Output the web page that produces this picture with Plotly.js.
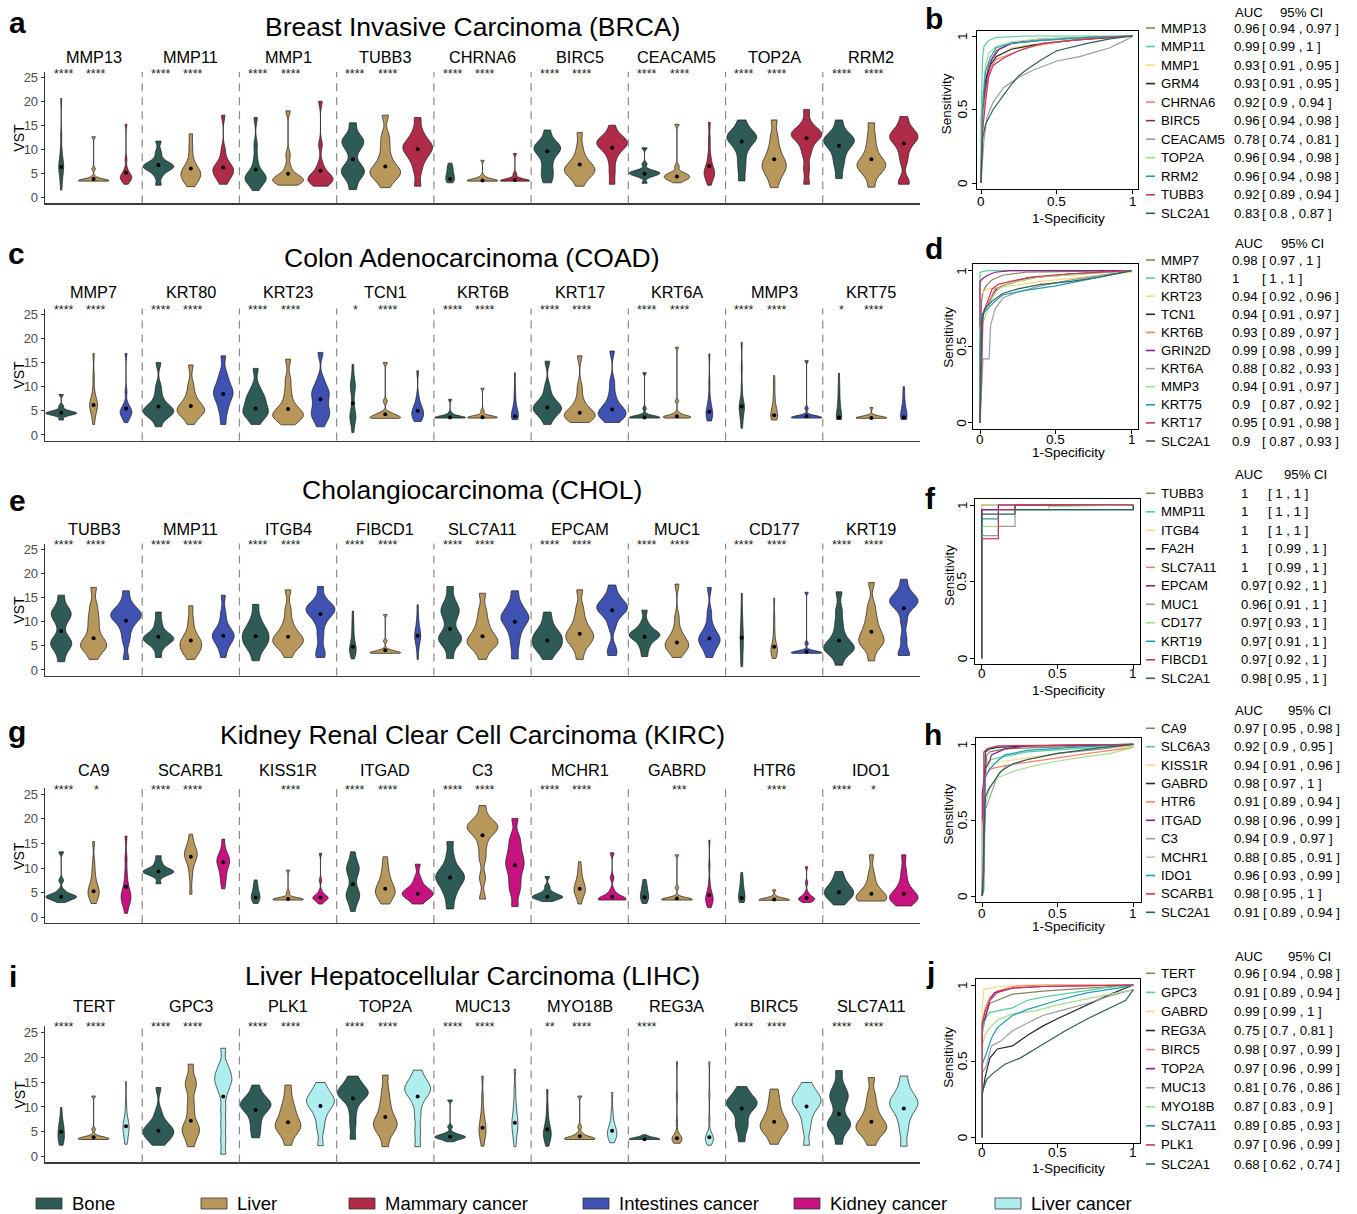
<!DOCTYPE html>
<html><head><meta charset="utf-8">
<script src="https://cdn.plot.ly/plotly-3.0.1.min.js"></script>
<style>html,body{margin:0;padding:0;background:#fff}#chart{width:1357px;height:1214px}</style>
</head><body><div id="chart"></div>
<script>
// ---------------- DATA ----------------
const groupNames = ['Bone','Liver','Mammary cancer','Intestines cancer','Kidney cancer','Liver cancer'];
const groupColors = ['#2F5B57','#B8975B','#B02B48','#3F52B2','#C7127F','#AEEEEE'];

// BRCA
const brcaTitle = 'Breast Invasive Carcinoma (BRCA)';
const brcaGenes = ['MMP13','MMP11','MMP1','TUBB3','CHRNA6','BIRC5','CEACAM5','TOP2A','RRM2'];
const brcaSigBone = ['****','****','****','****','****','****','****','****','****'];
const brcaSigLiver = ['****','****','****','****','****','****','****','****','****'];
const brcaBone = [
 [1.6,3.5,4.5,5.5,6,6.5,7,7.5,8.5,10,13,20.7],
 [2.6,4.5,5.5,6,6.3,6.5,6.6,6.8,7.2,8,9.5,11.8],
 [1.5,3,3.5,3.8,4,4.2,4.5,5,6,8,11,16.7],
 [1.7,4,5,5.5,6,7,9.5,11,11.5,12,13,15.6],
 [3.1,3.6,3.85,3.9,3.95,4.3,4.8,5.3,5.8,6.3,6.8,7.2],
 [3.1,4.5,5.5,7,8.5,9.5,10,10.3,10.6,11,12,14.1],
 [3.0,4.3,4.6,4.8,5,5.1,5.2,5.3,5.5,5.8,7,10.4],
 [3.5,6,8,10,11,12,12.3,12.7,13,13.5,14.5,16.2],
 [4,6.5,8,9.5,10.5,11.3,11.8,12,12.3,13,14,16.2]];
const brcaLiver = [
 [3.45,3.5,3.5,3.5,3.5,3.5,3.55,3.6,3.8,4.3,6,12.7],
 [2.3,3.5,3.9,4.2,4.8,5.2,5.5,5.8,6.5,8,10.5,13.3],
 [2.6,3.2,3.4,3.5,3.6,3.8,4,4.5,5,6.5,9,18.1],
 [2.1,3.8,4.5,5,5.3,5.8,6.5,7.5,9,11,13,17.2],
 [3.45,3.5,3.5,3.5,3.5,3.5,3.55,3.6,3.7,4,4.5,7.8],
 [2.4,4,4.8,5.3,5.6,5.8,6.2,6.8,7.5,8.5,10.5,13.6],
 [3.1,3.8,3.9,4,4.1,4.4,4.7,4.8,4.9,5.2,6.5,15.3],
 [2.1,4,5,5.8,6.5,7,7.5,8.5,9.5,11,13,16.2],
 [2.2,4.5,5.5,6.2,6.7,7,7.5,8.2,9.5,11,13,15.6]];
const brcaTumor = [
 [2.8,3.5,3.8,4,4.2,4.3,4.5,4.8,5.2,6,8,15.3],
 [2.8,3.8,4.5,5,5.5,5.8,6,6.3,7,8,10,17.2],
 [2.4,3.2,3.5,3.6,3.8,4,4.3,4.8,5.5,7,11,20.1],
 [2.4,5.5,7.5,8.5,9.5,10,10.5,11,11.5,12.5,14,16.7],
 [3.45,3.5,3.5,3.5,3.5,3.5,3.55,3.6,3.8,4.2,5,9.2],
 [2.8,5.5,8,9.5,10.5,11,11.3,11.5,11.8,12.3,13,15.1],
 [2.6,4,4.5,4.8,5.1,5.4,5.8,6.3,7.5,9,12,15.7],
 [2.8,6,9,10.5,12,12.8,13,13.3,13.6,14,15.5,18.4],
 [2.8,3.5,7.5,9.5,11,12,12.4,12.8,13.2,13.8,15,16.9]];
const brcaBoneDot = [6.4,6.8,5.9,8.0,3.9,9.7,5.0,11.7,10.8];
const brcaLiverDot = [3.9,6.1,5.0,6.5,3.6,6.9,4.4,8.0,8.0];
const brcaTumorDot = [5.2,6.3,5.6,10.1,3.7,10.4,6.6,12.4,11.3];

// COAD
const coadTitle = 'Colon Adenocarcinoma (COAD)';
const coadGenes = ['MMP7','KRT80','KRT23','TCN1','KRT6B','KRT17','KRT6A','MMP3','KRT75'];
const coadSigBone = ['****','****','****','*','****','****','****','****','*'];
const coadSigLiver = ['****','****','****','****','****','****','****','****','****'];
const coadBone = [
 [3.1,4,4.3,4.4,4.5,4.5,4.6,4.7,4.8,5.2,6,8.4],
 [1.7,3.8,4.3,4.6,4.8,5,5.3,5.8,6.5,8,10,15],
 [2.2,3.8,4.3,4.6,5,5.5,6.5,7.2,7.8,8.5,10,13.8],
 [0.5,2.5,3.5,3.8,4.2,5.5,7.5,9.5,10,10.5,12,14.6],
 [3.5,3.5,3.5,3.55,3.55,3.6,3.6,3.65,3.7,3.9,4.5,7.4],
 [2.2,3.8,4.5,5,5.3,5.6,5.9,6.3,7,8,10,15.3],
 [3.5,3.5,3.55,3.55,3.6,3.6,3.65,3.7,3.8,4.2,5.5,12.9],
 [1.4,3,4,5,5.5,5.8,6,6.5,7.5,10,14,19.2],
 [3.2,3.5,3.6,3.7,4,4.5,5.5,6.5,7.5,9,10.5,12.8]];
const coadLiver = [
 [2.2,4,4.8,5.5,6,6.2,6.5,7,7.5,9,12,16.9],
 [2.2,4,4.5,4.8,5,5.3,5.8,6.3,7.2,8.5,10.5,14.5],
 [2.1,3.4,3.7,3.9,4.1,4.5,5,5.8,7,9,11.5,15.7],
 [3.45,3.5,3.5,3.5,3.55,3.6,3.8,4.2,4.4,4.6,7,15],
 [3.5,3.5,3.55,3.55,3.6,3.6,3.65,3.7,3.8,4,5,9.7],
 [2.6,3.4,3.6,3.8,4,4.3,4.6,5.2,6,7.5,10,16.4],
 [3.5,3.55,3.6,3.65,3.7,3.75,3.8,3.9,4.1,4.6,7,18.2],
 [3.1,3.5,3.7,3.9,4.1,4.4,4.8,5.5,6.5,8,10,12.3],
 [3.45,3.48,3.5,3.5,3.5,3.5,3.5,3.52,3.55,3.6,4,5.7]];
const coadTumor = [
 [2.6,3.5,4,4.3,4.6,4.8,5,5.3,5.8,6.5,9,16.9],
 [2.2,4.5,6,7,8,8.5,9,9.5,10.5,11.5,13,16.4],
 [1.7,3.5,4,4.5,5.5,6.5,7.5,8.5,9,9.8,11.5,17.1],
 [2.8,3.5,3.7,3.8,4.2,4.8,5,5.3,5.8,6.5,8,13.3],
 [3.2,3.5,3.6,3.8,4,4.2,4.6,5.2,6,7.5,9.5,12.9],
 [2.6,3.5,3.9,4.2,4.5,4.8,5.2,5.8,6.8,8.5,11,17.4],
 [2.9,3.5,3.8,4.1,4.4,4.8,5.2,5.8,6.5,8,11,16.8],
 [3.5,3.5,3.55,3.55,3.6,3.6,3.65,3.7,3.8,4.1,5.5,15.4],
 [3.2,3.5,3.6,3.7,3.9,4.2,4.6,5.2,6,7,8.5,10]];
const coadBoneDot = [4.6,5.9,5.5,6.6,3.6,5.7,3.6,5.9,3.6];
const coadLiverDot = [6.2,6.0,5.4,4.3,3.7,4.6,3.9,4.1,3.5];
const coadTumorDot = [5.5,8.5,7.4,5.0,3.9,5.3,4.8,3.9,3.7];

// CHOL
const cholTitle = 'Cholangiocarcinoma (CHOL)';
const cholGenes = ['TUBB3','MMP11','ITGB4','FIBCD1','SLC7A11','EPCAM','MUC1','CD177','KRT19'];
const cholSigBone = ['****','****','****','****','****','****','****','****','****'];
const cholSigLiver = ['****','****','****','****','****','****','****','****','****'];
const cholBone = [
 [1.7,4,5,5.5,6,7,9.5,11,11.5,12,13,15.5],
 [2.6,4.5,5.5,6,6.3,6.5,6.7,7,7.5,8.5,10,12],
 [1.9,4,5,5.5,6.2,6.8,7.3,8,8.5,9.5,11,13.6],
 [2.3,3.5,3.8,4,4.2,4.5,5,5.8,7,8.5,10,12.2],
 [2.4,5,6,6.5,7,8,10,11.5,12.3,13,14.5,17.3],
 [2.2,3.8,4.5,5,5.5,6,6.8,7.2,7.6,8.5,10,12],
 [2.8,4.5,5.5,6.5,6.9,7.1,7.3,7.5,7.9,8.6,9.8,12.4],
 [0.7,2,3.5,4.5,5.5,6.5,7.3,8.3,9.5,11,13,15.9],
 [1,3.3,3.9,4.3,4.6,5,5.6,6.5,8,10,12.5,16.2]];
const cholLiver = [
 [2.2,4,4.6,5,5.4,6,7,8.5,10,11.5,13.5,17.1],
 [2.2,3.6,4,4.4,5,5.5,6,6.4,7,8.5,10.5,13.3],
 [2.6,4.5,5.2,5.6,6,6.4,6.9,7.5,8.5,10,12.5,16.6],
 [3.45,3.5,3.5,3.5,3.5,3.55,3.6,3.7,3.9,4.3,6,11.5],
 [2.2,4.3,5,5.5,5.9,6.3,7,7.8,9,10.5,12.5,15.9],
 [2.2,4.5,5.5,6.2,6.8,7.2,7.7,8.5,9.5,11,13,16.6],
 [2.6,3.8,4.4,4.8,5.1,5.4,5.8,6.4,7.2,8.5,11,17.8],
 [2.4,3.3,3.6,3.8,4,4.3,4.7,5.3,6.5,8.5,11,14.9],
 [1.9,4.5,5.3,5.8,6.3,7,7.8,8.7,10,11.5,13.5,18.1]];
const cholTumor = [
 [2.2,6,8,9.5,10.5,11,11.3,11.6,12,12.8,14,16.4],
 [2.6,4.5,5.5,6.2,6.8,7.1,7.4,7.8,8.5,10,12,15.5],
 [2.6,4,7,9.5,11,11.8,12.2,12.6,13,13.5,14.5,17.3],
 [2.2,4.5,5.5,6.3,6.8,7.1,7.4,7.8,8.5,9.5,11,13.5],
 [2.3,5,7,8.5,9.5,10.3,10.8,11.2,11.8,12.8,14,16.4],
 [3,4.5,9,11,12,12.5,12.8,13.2,13.7,14.5,15.5,17.6],
 [2.6,4,5,5.6,6,6.4,6.8,7.3,8,9.5,12,17.1],
 [3.45,3.5,3.5,3.5,3.5,3.55,3.6,3.65,3.75,4,5.5,16.1],
 [3,3.5,6.5,10,12.5,13.5,14,14.3,14.7,15.3,16.5,18.8]];
const cholBoneDot = [8.1,6.9,7.0,4.8,8.5,6.1,6.9,6.7,6.1];
const cholLiverDot = [6.6,6.1,6.9,4.1,7.0,7.5,5.7,4.8,7.9];
const cholTumorDot = [10.2,7.1,11.6,7.1,10.0,12.4,6.5,3.8,12.8];

// KIRC
const kircTitle = 'Kidney Renal Clear Cell Carcinoma (KIRC)';
const kircGenes = ['CA9','SCARB1','KISS1R','ITGAD','C3','MCHR1','GABRD','HTR6','IDO1'];
const kircSigBone = ['****','****','','****','****','****','','','****'];
const kircSigLiver = ['*','****','****','****','****','****','***','****','*'];
const kircBone = [
 [3.0,3.6,3.9,4,4.1,4.2,4.3,4.5,4.8,5.5,7.5,13.3],
 [6.8,8.3,8.8,9,9.2,9.3,9.4,9.6,9.9,10.5,11.3,12.5],
 [2.8,3.5,3.8,3.9,4,4.2,4.6,5.1,5.6,6.2,6.9,7.6],
 [1.2,3.2,4,4.5,5,6,8,9.3,9.8,10.3,11.3,13.3],
 [1.7,4,5.5,6.5,7.3,7.9,8.3,8.8,9.5,10.5,12.5,15.4],
 [3.2,3.7,3.9,4,4.1,4.2,4.3,4.5,4.8,5.3,6.3,8.3],
 [2.8,3.5,3.8,3.95,4.1,4.4,4.8,5.3,5.8,6.4,7,7.7],
 [3,3.6,3.8,3.9,4,4.3,4.8,5.5,6.2,7,8,9.1],
 [2.5,3.5,4,4.4,4.8,5.1,5.4,5.8,6.3,7,8,9.3]];
const kircLiver = [
 [2.8,3.8,4.3,4.8,5.1,5.4,5.8,6.5,7.5,9,11,15.4],
 [4.7,8,10,11.3,12,12.5,12.8,13.1,13.5,14.2,15.2,16.9],
 [3.5,3.5,3.55,3.55,3.6,3.6,3.65,3.7,3.8,4,5,9.6],
 [2.7,3.8,4.4,4.8,5.2,5.6,6.1,6.8,7.6,8.8,10.3,12.3],
 [3.7,8,12,14.5,16.5,17.5,18,18.3,18.7,19.2,20.2,22.7],
 [2.7,4.2,4.8,5.2,5.5,5.8,6.1,6.6,7.3,8.3,9.5,11.3],
 [3.5,3.5,3.55,3.55,3.6,3.6,3.65,3.7,3.85,4.2,6,12.7],
 [3.45,3.48,3.5,3.5,3.5,3.5,3.5,3.55,3.6,3.7,4.2,5.6],
 [3.3,3.5,3.6,3.7,3.9,4.2,4.6,5.2,6,7.2,9,12.7]];
const kircTumor = [
 [0.8,2.5,3.2,3.7,4.1,4.5,5,5.8,7,9,12,16.5],
 [5.8,7.5,8.3,9.5,10.5,11,11.3,11.6,12,12.6,13.5,15.9],
 [2.7,3.4,3.6,3.8,3.9,4,4.1,4.3,4.6,5.3,7.5,13],
 [2.7,3.6,4.1,4.4,4.7,4.9,5.1,5.4,5.9,6.7,8,10.8],
 [2.2,5,6.5,8,9.5,10.5,11.3,12.3,13.5,15,16.5,20.1],
 [3.5,3.5,3.55,3.6,3.65,3.7,3.9,4.2,4.6,5.5,8,13.1],
 [2,2.8,3.2,3.5,3.7,3.9,4.2,4.6,5.3,7,10.5,15.7],
 [3,3.4,3.5,3.6,3.7,3.8,3.9,4.1,4.4,5,7,10.3],
 [2.3,3.4,3.6,3.7,3.9,4.2,4.6,5.2,6,7.5,9.5,12.7]];
const kircBoneDot = [4.2,9.3,4.0,6.7,8.1,4.2,4.1,3.9,5.1];
const kircLiverDot = [5.3,12.3,3.7,5.8,16.7,5.8,3.8,3.6,4.8];
const kircTumorDot = [6.2,11.2,4.0,4.8,10.6,4.2,4.5,3.9,4.8];

// LIHC
const lihcTitle = 'Liver Hepatocellular Carcinoma (LIHC)';
const lihcGenes = ['TERT','GPC3','PLK1','TOP2A','MUC13','MYO18B','REG3A','BIRC5','SLC7A11'];
const lihcSigBone = ['****','****','****','****','****','**','****','****','****'];
const lihcSigLiver = ['****','****','****','****','****','****','','****','****'];
const lihcBone = [
 [2.3,3.2,3.5,3.7,4,4.6,5.4,5.8,6.1,6.7,8,9.9],
 [2.3,3.3,3.8,4.3,4.8,5.1,5.4,5.8,6.4,7.2,9,13.9],
 [3.8,5.5,7,8.5,9.5,10,10.3,10.6,11,11.6,12.5,14.4],
 [3.5,6.5,9,11,12,12.4,12.7,13,13.4,14,15,16.2],
 [3,3.5,3.7,3.8,3.9,4,4.1,4.2,4.4,4.8,6,11.4],
 [2.1,3.2,3.8,4.2,4.5,4.8,5.2,5.8,6.6,7.8,10,13.5],
 [3.45,3.48,3.5,3.5,3.5,3.5,3.5,3.5,3.52,3.55,3.7,4.4],
 [3,5.5,6.5,8,9.5,10.2,10.5,10.8,11.2,11.8,12.7,14.1],
 [2.5,5,6,6.5,7,8,10,11.5,12.2,13,14.5,17.3]];
const lihcLiver = [
 [3.45,3.5,3.5,3.5,3.55,3.6,3.65,3.75,3.9,4.2,5.5,12.2],
 [2,3.8,4.8,5.4,6,7,9,11,13.5,14.7,15.7,18.6],
 [2.3,4.3,5.2,5.8,6.2,6.7,7.3,8.3,9.3,10.3,12,14.4],
 [2,4.3,5.3,6,6.5,7,7.7,8.7,10,11.5,13.5,16.4],
 [2.1,3.5,4.2,4.8,5.3,5.8,6.3,7,8,9.5,12,16.2],
 [3.45,3.5,3.5,3.5,3.55,3.6,3.7,3.9,4.2,4.7,6,12.2],
 [2.7,3.3,3.45,3.5,3.55,3.6,3.7,3.9,4.5,7,12,19.1],
 [2.5,4.3,5.2,5.7,6.1,6.6,7.2,8,9,10.3,11.8,13.6],
 [2.3,4.2,5,5.5,5.9,6.4,7,7.8,9,10.5,12.5,15.9]];
const lihcTumor = [
 [2.5,3.5,4.3,5,5.5,5.9,6.2,6.6,7.2,8.2,10.5,15.1],
 [0.5,3.5,6.5,9.5,12.5,14,15,15.6,16.3,17.3,18.5,21.8],
 [2.2,5.5,7.5,9,10,10.6,11,11.4,11.9,12.6,13.5,14.9],
 [2,5,8,10.5,12,12.8,13.3,13.7,14.2,14.9,15.8,17.4],
 [2,3.8,4.8,5.6,6.3,6.9,7.5,8.3,9.5,11,13.5,17.6],
 [2.8,3.6,4,4.3,4.6,4.9,5.2,5.6,6.2,7.2,9,12.9],
 [2.3,3.3,3.45,3.5,3.6,3.7,3.8,4,4.8,7.5,12.5,19.1],
 [2.3,5.5,7.5,9,10,10.6,11.1,11.5,12,12.7,13.5,14.9],
 [2.1,5,7,8.5,9.5,10.2,10.7,11.2,11.8,12.7,14,16.2]];
const lihcBoneDot = [5.0,5.2,9.4,11.7,4.0,5.5,3.5,9.7,8.6];
const lihcLiverDot = [3.9,7.2,6.9,8.0,5.8,4.1,3.7,7.0,7.0];
const lihcTumorDot = [6.1,12.1,10.2,12.1,6.8,5.2,3.9,10.1,9.7];

// ROC curves
const rocColors = ['#8A7F60','#55CD9C','#F7D97C','#1D2B39','#F4826F','#8C1C8C','#9C9C9C','#A3DF91','#1E9BB8','#CA3A53','#2F5E5B'];

const brcaRocGenes = ['MMP13','MMP11','MMP1','GRM4','CHRNA6','BIRC5','CEACAM5','TOP2A','RRM2','TUBB3','SLC2A1'];
const brcaRocAuc = [0.96,0.99,0.93,0.93,0.92,0.96,0.78,0.96,0.96,0.92,0.83];
const brcaRocLo = [0.94,0.99,0.91,0.91,0.9,0.94,0.74,0.94,0.94,0.89,0.8];
const brcaRocHi = [0.97,1,0.95,0.95,0.94,0.98,0.81,0.98,0.98,0.94,0.87];
const brcaRocFpr = [
 [0,0.01,0.02,0.05,0.1,0.2,0.4,0.7,1],
 [0,0,0.01,0.02,0.05,0.1,0.3,1],
 [0,0.02,0.05,0.1,0.2,0.4,0.7,1],
 [0,0.01,0.03,0.06,0.1,0.2,0.35,0.6,1],
 [0,0.01,0.03,0.06,0.1,0.2,0.3,0.5,0.8,1],
 [0,0.01,0.04,0.07,0.12,0.2,0.4,1],
 [0,0.01,0.02,0.04,0.08,0.15,0.25,0.35,0.5,0.65,0.75,0.85,0.95,1],
 [0,0.01,0.03,0.05,0.1,0.2,0.4,0.7,1],
 [0,0.01,0.03,0.06,0.1,0.2,0.4,0.7,1],
 [0,0.01,0.03,0.05,0.08,0.15,0.25,0.4,0.7,1],
 [0,0.01,0.03,0.08,0.15,0.2,0.25,0.3,0.4,0.5,0.7,0.85,1]];
const brcaRocTpr = [
 [0,0.6,0.64,0.8,0.9,0.95,0.97,0.99,1],
 [0,0.4,0.85,0.93,0.97,0.99,1,1],
 [0,0.6,0.75,0.85,0.92,0.95,0.98,1],
 [0,0.5,0.7,0.8,0.86,0.91,0.94,0.97,1],
 [0,0.35,0.62,0.78,0.84,0.88,0.92,0.96,0.99,1],
 [0,0.5,0.72,0.84,0.91,0.95,0.98,1],
 [0,0.15,0.3,0.45,0.55,0.65,0.72,0.77,0.83,0.86,0.89,0.92,0.97,1],
 [0,0.6,0.8,0.88,0.93,0.96,0.98,0.99,1],
 [0,0.5,0.76,0.85,0.92,0.95,0.97,0.99,1],
 [0,0.35,0.55,0.72,0.8,0.85,0.9,0.95,0.98,1],
 [0,0.3,0.4,0.5,0.6,0.67,0.73,0.77,0.84,0.9,0.95,0.98,1]];

const coadRocGenes = ['MMP7','KRT80','KRT23','TCN1','KRT6B','GRIN2D','KRT6A','MMP3','KRT75','KRT17','SLC2A1'];
const coadRocAuc = [0.98,1,0.94,0.94,0.93,0.99,0.88,0.94,0.9,0.95,0.9];
const coadRocLo = [0.97,1,0.92,0.91,0.89,0.98,0.82,0.91,0.87,0.91,0.87];
const coadRocHi = [1,1,0.96,0.97,0.97,0.99,0.93,0.97,0.92,0.98,0.93];
const coadRocFpr = [
 [0,0.01,0.02,0.04,0.08,0.15,0.3,1],
 [0,0,0.05,1],
 [0,0,0.02,0.05,0.2,0.4,0.6,0.9,1],
 [0,0.01,0.03,0.05,0.1,0.15,0.3,0.6,1],
 [0,0.01,0.02,0.05,0.1,0.2,0.4,1],
 [0,0,0.02,0.05,0.1,0.2,1],
 [0,0.01,0.02,0.06,0.07,0.1,0.15,0.25,0.4,0.6,0.8,1],
 [0,0,0.02,0.05,0.08,0.12,0.2,0.4,0.7,1],
 [0,0,0.01,0.05,0.1,0.15,0.3,0.5,0.7,1],
 [0,0.01,0.02,0.05,0.08,0.12,0.2,0.35,0.6,1],
 [0,0.01,0.03,0.08,0.15,0.25,0.4,0.6,0.8,1]];
const coadRocTpr = [
 [0,0.8,0.86,0.9,0.94,0.97,0.99,1],
 [0,0.99,1,1],
 [0,0.83,0.86,0.88,0.9,0.93,0.95,0.98,0.99],
 [0,0.7,0.73,0.78,0.87,0.9,0.95,0.98,1],
 [0,0.28,0.7,0.78,0.88,0.92,0.96,1],
 [0,0.93,0.95,0.97,0.99,1,1],
 [0,0.18,0.42,0.42,0.64,0.75,0.82,0.86,0.9,0.94,0.97,1],
 [0,0.62,0.66,0.74,0.82,0.88,0.92,0.96,0.98,1],
 [0,0.48,0.71,0.75,0.8,0.84,0.87,0.9,0.94,1],
 [0,0.48,0.72,0.8,0.88,0.91,0.93,0.96,0.98,1],
 [0,0.65,0.75,0.8,0.85,0.88,0.91,0.93,0.96,1]];

const cholRocGenes = ['TUBB3','MMP11','ITGB4','FA2H','SLC7A11','EPCAM','MUC1','CD177','KRT19','FIBCD1','SLC2A1'];
const cholRocAuc = [1,1,1,1,1,0.97,0.96,0.97,0.97,0.97,0.98];
const cholRocLo = [1,1,1,0.99,0.99,0.92,0.91,0.93,0.91,0.92,0.95];
const cholRocHi = [1,1,1,1,1,1,1,1,1,1,1];
const cholRocFpr = [
 [0,0,1],[0,0,1],[0,0,1],
 [0,0,0.22,0.22,1],
 [0,0,0.11,0.11,1],
 [0,0,0.11,0.11,1],
 [0,0,0.11,0.11,0.22,0.22,1,1],
 [0,0,0.11,0.11,0.44,0.44,1],
 [0,0,0.11,0.11,1,1],
 [0,0,0.11,0.11,0.22,0.22,1],
 [0,0,0.22,0.22,1,1]];
const cholRocTpr = [
 [0,1,1],[0,1,1],[0,1,1],
 [0,0.97,0.97,1,1],
 [0,0.78,0.78,1,1],
 [0,0.97,0.97,1,1],
 [0,0.8,0.8,0.86,0.86,0.97,0.97,1],
 [0,0.86,0.86,0.97,0.97,0.99,1],
 [0,0.91,0.91,0.97,0.97,1],
 [0,0.78,0.78,0.97,0.97,1,1],
 [0,0.94,0.94,0.97,0.97,1]];

const kircRocGenes = ['CA9','SLC6A3','KISS1R','GABRD','HTR6','ITGAD','C3','MCHR1','IDO1','SCARB1','SLC2A1'];
const kircRocAuc = [0.97,0.92,0.94,0.98,0.91,0.98,0.94,0.88,0.96,0.98,0.91];
const kircRocLo = [0.95,0.9,0.91,0.97,0.89,0.96,0.9,0.85,0.93,0.95,0.89];
const kircRocHi = [0.98,0.95,0.96,1,0.94,0.99,0.97,0.91,0.99,1,0.94];
const kircRocFpr = [
 [0,0.01,0.03,0.05,0.15,0.4,1],
 [0,0.01,0.03,0.06,0.15,0.3,0.6,1],
 [0,0.01,0.05,0.15,0.3,0.5,0.8,1],
 [0,0.02,0.05,0.1,0.3,1],
 [0,0.01,0.02,0.06,0.15,0.3,0.5,0.7,1],
 [0,0,0.02,0.05,0.06,0.15,0.3,1],
 [0,0.02,0.05,0.1,0.15,0.3,0.5,0.8,1],
 [0,0,0.02,0.05,0.1,0.2,0.35,0.5,0.7,0.85,1],
 [0,0.01,0.02,0.05,0.1,0.15,0.3,0.6,1],
 [0,0.01,0.01,0.03,0.1,1],
 [0,0.02,0.04,0.08,0.12,0.2,0.3,0.5,0.8,1]];
const kircRocTpr = [
 [0,0.6,0.93,0.95,0.97,0.98,1],
 [0,0.8,0.88,0.9,0.92,0.95,0.97,0.99],
 [0,0.82,0.87,0.89,0.91,0.94,0.97,0.99],
 [0,0.95,0.97,0.98,0.99,1],
 [0,0.17,0.8,0.84,0.86,0.88,0.91,0.94,0.98],
 [0,0.68,0.84,0.89,0.93,0.97,0.99,1],
 [0,0.57,0.65,0.79,0.85,0.9,0.94,0.97,1],
 [0,0.45,0.6,0.72,0.78,0.82,0.86,0.89,0.92,0.94,0.98],
 [0,0.04,0.78,0.84,0.89,0.93,0.96,0.98,1],
 [0,0.17,0.95,0.97,0.99,1],
 [0,0.65,0.7,0.76,0.82,0.87,0.9,0.94,0.98,1]];

const lihcRocGenes = ['TERT','GPC3','GABRD','REG3A','BIRC5','TOP2A','MUC13','MYO18B','SLC7A11','PLK1','SLC2A1'];
const lihcRocAuc = [0.96,0.91,0.99,0.75,0.98,0.97,0.81,0.87,0.89,0.97,0.68];
const lihcRocLo = [0.94,0.89,0.99,0.7,0.97,0.96,0.76,0.83,0.85,0.96,0.62];
const lihcRocHi = [0.98,0.94,1,0.81,0.99,0.99,0.86,0.9,0.93,0.99,0.74];
const lihcRocFpr = [
 [0,0,0.02,0.05,0.1,0.2,0.4,0.7,1],
 [0,0,0.02,0.05,0.2,0.3,0.4,0.6,0.8,1],
 [0,0,0.01,0.1,0.3,1],
 [0,0,0.02,0.05,0.1,0.2,0.3,0.4,0.5,0.7,0.85,1],
 [0,0,0.02,0.05,0.1,0.2,0.4,1],
 [0,0,0.02,0.05,0.08,0.2,0.4,1],
 [0,0,0.03,0.06,0.12,0.2,0.3,0.4,0.55,0.7,0.85,1],
 [0,0,0.02,0.05,0.1,0.2,0.35,0.5,0.7,0.9,1],
 [0,0,0.03,0.06,0.1,0.2,0.3,0.5,0.7,0.9,1],
 [0,0,0.02,0.05,0.1,0.2,0.4,1],
 [0,0,0.03,0.07,0.15,0.25,0.35,0.45,0.55,0.7,0.85,0.95,1]];
const lihcRocTpr = [
 [0,0.7,0.8,0.88,0.9,0.94,0.96,0.98,1],
 [0,0.68,0.78,0.82,0.85,0.9,0.92,0.95,0.98,1],
 [0,0.85,0.97,0.99,1,1],
 [0,0.28,0.4,0.52,0.58,0.6,0.67,0.73,0.78,0.87,0.94,1],
 [0,0.76,0.85,0.92,0.96,0.99,1,1],
 [0,0.75,0.78,0.9,0.95,0.98,0.99,1],
 [0,0.42,0.48,0.6,0.63,0.7,0.75,0.8,0.84,0.88,0.93,0.97],
 [0,0.6,0.68,0.72,0.77,0.81,0.83,0.87,0.91,0.95,0.97],
 [0,0.48,0.56,0.65,0.72,0.8,0.84,0.9,0.95,0.98,1],
 [0,0.75,0.83,0.9,0.95,0.98,0.99,1],
 [0,0.3,0.38,0.42,0.48,0.52,0.58,0.64,0.7,0.78,0.85,0.9,0.97]];

const rocTickVals = [0, 0.5, 1];
const rocTickText = ['0', '0.5', '1'];
const vstTickVals = [0, 5, 10, 15, 20, 25];

// ---------------- ASSEMBLY ----------------
const W = 1357, H = 1214;
const FONT = 'Liberation Sans, Arial, Helvetica, sans-serif';
const px = v => v / W;
const py = v => 1 - v / H;

const rows = [
 {title:brcaTitle, genes:brcaGenes, cancer:2, s:[brcaBone,brcaLiver,brcaTumor], d:[brcaBoneDot,brcaLiverDot,brcaTumorDot], sig:[brcaSigBone,brcaSigLiver]},
 {title:coadTitle, genes:coadGenes, cancer:3, s:[coadBone,coadLiver,coadTumor], d:[coadBoneDot,coadLiverDot,coadTumorDot], sig:[coadSigBone,coadSigLiver]},
 {title:cholTitle, genes:cholGenes, cancer:3, s:[cholBone,cholLiver,cholTumor], d:[cholBoneDot,cholLiverDot,cholTumorDot], sig:[cholSigBone,cholSigLiver]},
 {title:kircTitle, genes:kircGenes, cancer:4, s:[kircBone,kircLiver,kircTumor], d:[kircBoneDot,kircLiverDot,kircTumorDot], sig:[kircSigBone,kircSigLiver]},
 {title:lihcTitle, genes:lihcGenes, cancer:5, s:[lihcBone,lihcLiver,lihcTumor], d:[lihcBoneDot,lihcLiverDot,lihcTumorDot], sig:[lihcSigBone,lihcSigLiver]}
];
const vGeom = [
 {y0:197.7, y25:77.7, title:27, gene:57, star:71, letter:[17,22], L:'a'},
 {y0:435, y25:314.3, title:258.3, gene:292, star:307, letter:[16,253], L:'c'},
 {y0:670, y25:549.3, title:490, gene:529, star:541.5, letter:[17,500], L:'e'},
 {y0:917.3, y25:794.3, title:735, gene:770, star:787, letter:[17,731], L:'g'},
 {y0:1156.7, y25:1032.3, title:975.7, gene:1006, star:1024, letter:[13,976], L:'i'}
];

const rocs = [
 {g:brcaRocGenes, auc:brcaRocAuc, lo:brcaRocLo, hi:brcaRocHi, fpr:brcaRocFpr, tpr:brcaRocTpr},
 {g:coadRocGenes, auc:coadRocAuc, lo:coadRocLo, hi:coadRocHi, fpr:coadRocFpr, tpr:coadRocTpr},
 {g:cholRocGenes, auc:cholRocAuc, lo:cholRocLo, hi:cholRocHi, fpr:cholRocFpr, tpr:cholRocTpr},
 {g:kircRocGenes, auc:kircRocAuc, lo:kircRocLo, hi:kircRocHi, fpr:kircRocFpr, tpr:kircRocTpr},
 {g:lihcRocGenes, auc:lihcRocAuc, lo:lihcRocLo, hi:lihcRocHi, fpr:lihcRocFpr, tpr:lihcRocTpr}
];
const rGeom = [
 {x0:981, x1:1132.7, L:977, R:1138, y1:36, y0:183, T:31, B:189, leg0:28, step:18.53, head:12, aucX:1231.7, ciX:1260, ciHead:1278, xlab:201.5, xt:218.5, yt:[946,104.2], letter:[934,19], Lt:'b'},
 {x0:980, x1:1131.7, L:973.3, R:1137.7, y1:270.7, y0:422.7, T:264.3, B:429, leg0:260, step:18.1, head:243.3, aucX:1230, ciX:1260, ciHead:1279, xlab:439.5, xt:453, yt:[948.3,337.5], letter:[934,249], Lt:'d'},
 {x0:981.7, x1:1133.3, L:975, R:1140, y1:505, y0:658.3, T:499.3, B:664, leg0:493.3, step:18.5, head:474, aucX:1239, ciX:1266, ciHead:1282, xlab:673, xt:690.5, yt:[950,575.8], letter:[930,498], Lt:'f'},
 {x0:982.3, x1:1133.3, L:976, R:1140.7, y1:744.3, y0:896, T:737.7, B:901.7, leg0:728.3, step:18.4, head:710, aucX:1231.7, ciX:1261, ciHead:1285.7, xlab:913.5, xt:926.5, yt:[948.3,814.2], letter:[933,734], Lt:'h'},
 {x0:982.3, x1:1133.3, L:976, R:1140, y1:985, y0:1137.3, T:979.3, B:1143.3, leg0:973.3, step:19.07, head:956, aucX:1231.7, ciX:1260.7, ciHead:1285.7, xlab:1152.5, xt:1168.5, yt:[948.3,1057.5], letter:[930,972], Lt:'j'}
];

function bandwidth(s){
  const a = s.slice().sort((p,q)=>p-q), n = a.length;
  const mean = a.reduce((p,q)=>p+q,0)/n;
  const sd = Math.sqrt(a.reduce((p,q)=>p+(q-mean)*(q-mean),0)/(n-1));
  const qt = p => { const h=(n-1)*p, lo=Math.floor(h); return a[lo]+(a[Math.min(lo+1,n-1)]-a[lo])*(h-lo); };
  const iqr = qt(0.75)-qt(0.25);
  const b = 1.059*Math.min(sd, iqr/1.349)*Math.pow(n,-0.2);
  return Math.min(1.2, Math.max(0.35, b));
}

const traces = [];
const annotations = [];
const shapes = [];
const layout = {width:W, height:H, margin:{l:0,r:0,t:0,b:0}, paper_bgcolor:'#ffffff', plot_bgcolor:'rgba(0,0,0,0)',
  showlegend:false, violinmode:'overlay', violingap:0.05, violingroupgap:0, annotations, shapes, font:{family:FONT}};

function ann(text, x, y, size, extra){
  return Object.assign({text, x:px(x), y:py(y), xref:'paper', yref:'paper', showarrow:false,
    xanchor:'center', yanchor:'middle', font:{family:FONT, size, color:'#000'}}, extra||{});
}

rows.forEach((row, r) => {
  const g = vGeom[r];
  const k = r + 1, sfx = k === 1 ? '' : String(k);
  const xa = 'x'+sfx, ya = 'y'+sfx;
  const sc = (g.y0 - g.y25)/25;
  const pix = v => g.y0 - v*sc;
  const yr = [-1.15, 26.2];
  layout['xaxis'+sfx] = {domain:[px(45), px(920)], range:[-0.5, 26.5], anchor:ya, showline:true, linecolor:'#3a3a3a', linewidth:1.3,
    ticks:'', showticklabels:false, showgrid:false, zeroline:false, fixedrange:true};
  layout['yaxis'+sfx] = {domain:[py(pix(yr[0])), py(pix(yr[1]))], range:yr, anchor:xa, showline:true, linecolor:'#3a3a3a', linewidth:1.3,
    ticks:'outside', ticklen:3, tickcolor:'#3a3a3a', tickvals:vstTickVals, tickfont:{family:FONT, size:13, color:'#4d4d4d'},
    showgrid:false, zeroline:false, fixedrange:true};
  const colors = [groupColors[0], groupColors[1], groupColors[row.cancer]];
  const dx = [], dy = [];
  row.genes.forEach((gene, i) => {
    for (let gi = 0; gi < 3; gi++) {
      const s = row.s[gi][i];
      traces.push({type:'violin', x0:i*3+gi, y:s, xaxis:xa, yaxis:ya, name:gene+'-'+gi,
        scalegroup:'r'+r+'g'+i, scalemode:'count', bandwidth:bandwidth(s), spanmode:'hard',
        points:false, box:{visible:false}, meanline:{visible:false},
        fillcolor:colors[gi], line:{color:'#1a1a1a', width:0.7}, opacity:1, hoverinfo:'skip'});
      dx.push(i*3+gi); dy.push(row.d[gi][i]);
    }
    annotations.push({text:gene, x:i*3+1, y:py(g.gene), xref:xa, yref:'paper', showarrow:false, xanchor:'center', yanchor:'middle',
      font:{family:FONT, size:16.3, color:'#000'}});
    for (let si = 0; si < 2; si++) {
      const t = row.sig[si][i];
      if (t) annotations.push({text:t, x:i*3+si+0.08, y:py(g.star+3), xref:xa, yref:'paper', showarrow:false, xanchor:'center', yanchor:'middle',
        font:{family:FONT, size:12.5, color:'#222'}});
    }
    if (i > 0) shapes.push({type:'line', xref:xa, yref:ya+' domain', x0:i*3-0.5, x1:i*3-0.5, y0:0, y1:1,
      line:{color:'#8a8a8a', width:1.2, dash:'8px,6px'}});
  });
  traces.push({type:'scatter', mode:'markers', x:dx, y:dy, xaxis:xa, yaxis:ya, marker:{color:'#000', size:4}, hoverinfo:'skip'});
  annotations.push(ann(row.title, 472, g.title, 26.5));
  annotations.push(ann(g.L, g.letter[0], g.letter[1], 30, {font:{family:FONT, size:30, color:'#000', weight:'bold'}}));
  annotations.push(ann('VST', 19, pix(12.5), 14, {textangle:-90, font:{family:FONT, size:14, color:'#000'}}));
});

rocs.forEach((roc, p) => {
  const g = rGeom[p];
  const k = p + 6, sfx = String(k);
  const xa = 'x'+sfx, ya = 'y'+sfx;
  const xr = [(g.L-g.x0)/(g.x1-g.x0), (g.R-g.x0)/(g.x1-g.x0)];
  const yrg = [(g.y0-g.B)/(g.y0-g.y1), (g.y0-g.T)/(g.y0-g.y1)];
  layout['xaxis'+sfx] = {domain:[px(g.L), px(g.R)], range:xr, anchor:ya, showline:true, mirror:true, linecolor:'#000', linewidth:1,
    ticks:'outside', ticklen:4, tickcolor:'#000', tickvals:rocTickVals, showticklabels:false,
    showgrid:false, zeroline:false, fixedrange:true};
  layout['yaxis'+sfx] = {domain:[py(g.B), py(g.T)], range:yrg, anchor:xa, showline:true, mirror:true, linecolor:'#000', linewidth:1,
    ticks:'outside', ticklen:4, tickcolor:'#000', tickvals:rocTickVals, showticklabels:false,
    showgrid:false, zeroline:false, fixedrange:true};
  rocTickVals.forEach((v, ti) => {
    annotations.push({text:rocTickText[ti], x:v, y:py(g.xlab), xref:xa, yref:'paper', showarrow:false, xanchor:'center', yanchor:'middle',
      font:{family:FONT, size:13.5, color:'#000'}});
    annotations.push({text:rocTickText[ti], x:px(962), y:v, xref:'paper', yref:ya, showarrow:false, xanchor:'center', yanchor:'middle',
      textangle:-90, font:{family:FONT, size:13.5, color:'#000'}});
  });
  roc.g.forEach((gene, j) => {
    traces.push({type:'scatter', mode:'lines', x:roc.fpr[j], y:roc.tpr[j], xaxis:xa, yaxis:ya, line:{color:rocColors[j], width:1.2}, hoverinfo:'skip'});
    const yy = g.leg0 + j*g.step;
    shapes.push({type:'line', xref:'paper', yref:'paper', x0:px(1146), x1:px(1155), y0:py(yy), y1:py(yy), line:{color:rocColors[j], width:1.6}});
    annotations.push(ann(gene, 1159, yy, 13.2, {xanchor:'left'}));
    annotations.push(ann(String(roc.auc[j]), g.aucX, yy, 13.2, {xanchor:'left'}));
    annotations.push(ann('[ '+roc.lo[j]+' , '+roc.hi[j]+' ]', g.ciX, yy, 13.2, {xanchor:'left'}));
  });
  annotations.push(ann('AUC', 1233, g.head, 13.2, {xanchor:'left'}));
  annotations.push(ann('95% CI', g.ciHead, g.head, 13.2, {xanchor:'left'}));
  annotations.push(ann('1-Specificity', 1068, g.xt, 13.5));
  annotations.push(ann('Sensitivity', g.yt[0], g.yt[1], 13.5, {textangle:-90}));
  annotations.push(ann(g.Lt, g.letter[0], g.letter[1], 30, {font:{family:FONT, size:30, color:'#000', weight:'bold'}}));
});

// bottom legend
const legendLeft = [36, 201, 349, 583, 794, 995];
groupNames.forEach((nm, i) => {
  const x = legendLeft[i];
  shapes.push({type:'rect', xref:'paper', yref:'paper', x0:px(x), x1:px(x+26), y0:py(1209), y1:py(1198),
    fillcolor:groupColors[i], line:{color:'#333', width:0.8}});
  annotations.push(ann(nm, x+34, 1203.5, 18.5, {xanchor:'left'}));
});

Plotly.newPlot('chart', traces, layout, {staticPlot:true, displayModeBar:false});
</script>
</body></html>
